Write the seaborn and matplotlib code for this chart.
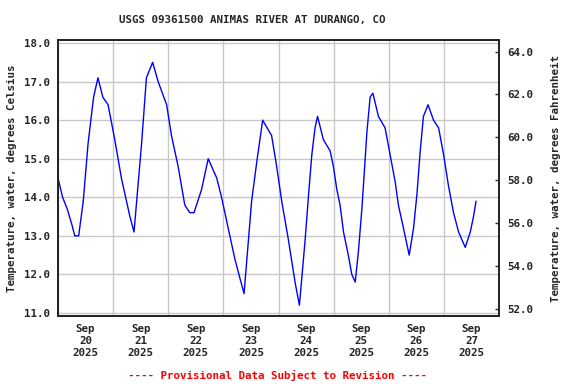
import matplotlib
matplotlib.use("Agg")
import matplotlib.pyplot as plt
import matplotlib.dates as mdates
import pandas as pd
import seaborn as sns

# hours since Sep 20 2025 00:00 and water temperature (deg C)
hours = [0, 2, 4, 6, 7.3, 9.0, 11, 13.1, 15.5, 17.4, 19.5, 21.8, 24.7, 27.6, 31.3, 33.1,
         36.4, 38.5, 41.2, 43.6, 47.3, 49.4, 52.3, 55.2, 57.4, 59.2, 62.5, 65.4, 69.1, 71.2,
         74.1, 77.0, 79.2, 81.0, 84.3, 86.5, 89.1, 93.0, 95.2, 97.4, 100.3, 103.2, 105.1,
         107.6, 109.0, 110.5, 111.9, 113.0, 115.5, 118.5, 119.9, 121.4, 122.8, 124.3, 126.4,
         127.9, 129.4, 130.8, 132.3, 133.3, 134.5, 135.9, 137.1, 139.5, 142.4, 144.6, 146.8,
         148.2, 150.4, 152.9, 154.8, 156.3, 157.7, 159.1, 161.1, 163.5, 165.7, 167.9, 170.0,
         172.2, 174.4, 177.3, 179.5, 180.9, 182.0]
temp_c = [14.5, 14.0, 13.7, 13.3, 13.0, 13.0, 13.9, 15.4, 16.6, 17.1, 16.6, 16.4, 15.5, 14.5,
          13.5, 13.1, 15.4, 17.1, 17.5, 17.0, 16.4, 15.6, 14.8, 13.8, 13.6, 13.6, 14.2, 15.0,
          14.5, 14.0, 13.2, 12.4, 11.9, 11.5, 13.9, 14.9, 16.0, 15.6, 14.8, 13.9, 12.9, 11.8,
          11.2, 12.9, 14.0, 15.1, 15.8, 16.1, 15.5, 15.2, 14.8, 14.2, 13.8, 13.1, 12.5, 12.0,
          11.8, 12.6, 13.7, 14.6, 15.7, 16.6, 16.7, 16.1, 15.8, 15.1, 14.4, 13.8, 13.2, 12.5,
          13.2, 14.1, 15.2, 16.1, 16.4, 16.0, 15.8, 15.1, 14.3, 13.6, 13.1, 12.7, 13.1, 13.5, 13.9]
day_labels = ["Sep\n20\n2025", "Sep\n21\n2025", "Sep\n22\n2025", "Sep\n23\n2025",
              "Sep\n24\n2025", "Sep\n25\n2025", "Sep\n26\n2025", "Sep\n27\n2025"]

start = pd.Timestamp("2025-09-20")
df = pd.DataFrame({"time": start + pd.to_timedelta(hours, unit="h"), "temp": temp_c})

sns.set_style("white")
plt.rcParams["font.family"] = ["DejaVu Sans Mono"]
plt.rcParams["font.weight"] = "bold"
fs = 7.8

fig = plt.figure(figsize=(5.76, 3.84), dpi=100)
ax = fig.add_axes([58 / 576, 1 - 316 / 384, 441 / 576, 276 / 384])

sns.lineplot(data=df, x="time", y="temp", ax=ax, color="#0000ff", linewidth=1.0)

ymin, ymax = 10.92, 18.08
ax.set_ylim(ymin, ymax)
ax.set_xlim(start, start + pd.Timedelta(days=8))
ax.set_yticks(range(11, 19))
ax.set_yticklabels([f"{v:.1f}" for v in range(11, 19)], fontsize=fs, fontweight="bold")

midnights = pd.date_range(start, periods=9, freq="D")
noons = pd.date_range(start + pd.Timedelta(hours=12), periods=8, freq="D")
ax.set_xticks(mdates.date2num(midnights))
ax.set_xticklabels([])
ax.set_xticks(mdates.date2num(noons), minor=True)
ax.set_xticklabels(day_labels, minor=True, fontsize=fs, fontweight="bold", linespacing=1.2)
ax.tick_params(axis="x", which="both", length=0, pad=6)
ax.tick_params(axis="y", length=0, pad=6)
ax.grid(True, which="major", color="#c8c8c8", linewidth=1)
ax.set_axisbelow(True)
for s in ax.spines.values():
    s.set_color("black")
    s.set_linewidth(1.2)
ax.set_xlabel("")
ax.set_ylabel("Temperature, water, degrees Celsius", fontsize=fs, fontweight="bold", labelpad=5)

ax2 = ax.twinx()
ax2.set_ylim(ymin * 1.8 + 32, ymax * 1.8 + 32)
ticks_f = list(range(52, 65, 2))
ax2.set_yticks(ticks_f)
ax2.set_yticklabels([f"{v:.1f}" for v in ticks_f], fontsize=fs, fontweight="bold")
ax2.tick_params(axis="y", direction="in", length=3, width=1, pad=6)
ax2.set_ylabel("Temperature, water, degrees Fahrenheit", fontsize=fs, fontweight="bold", labelpad=13)
for s in ax2.spines.values():
    s.set_linewidth(1.2)

fig.text(252 / 576, 1 - 20 / 384, "USGS 09361500 ANIMAS RIVER AT DURANGO, CO",
         ha="center", va="center", fontsize=fs, fontweight="bold")
fig.text(278 / 576, 1 - 375 / 384, "---- Provisional Data Subject to Revision ----",
         ha="center", va="center", fontsize=fs, fontweight="bold", color="red")

fig.savefig("out.png", dpi=100)
